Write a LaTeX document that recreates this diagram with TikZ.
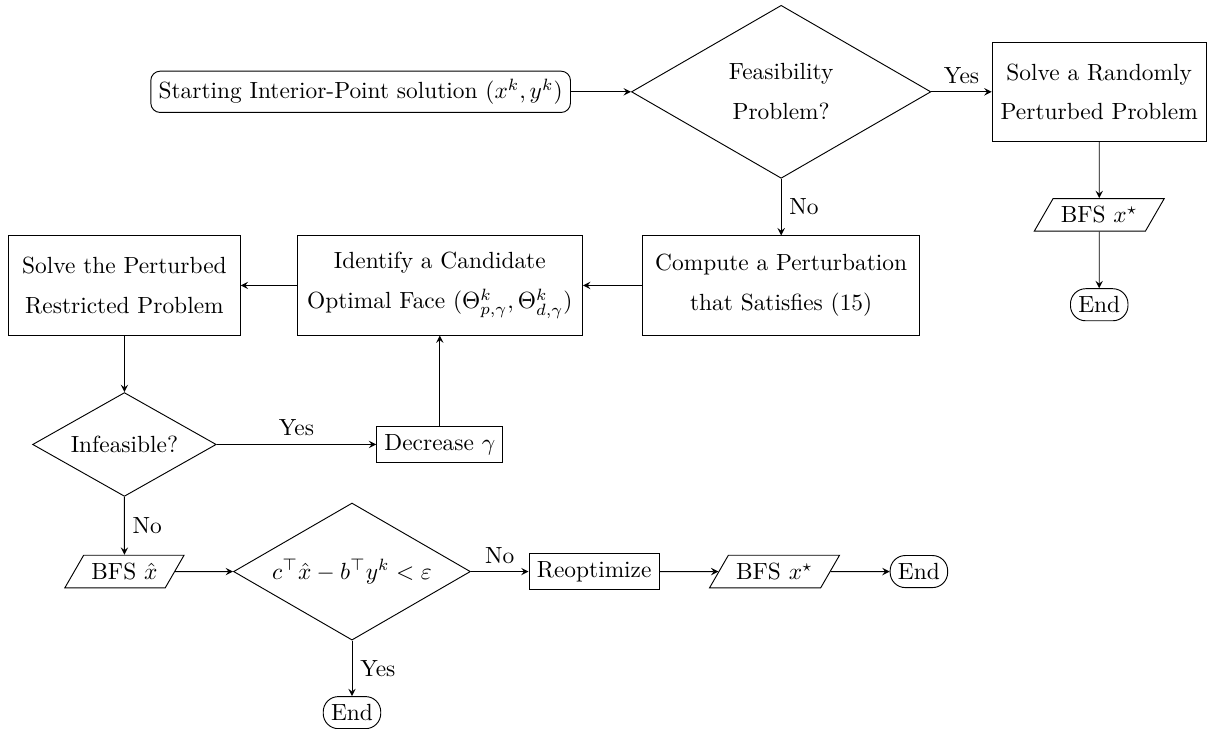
\documentclass[tikz,border=0pt]{standalone}
\usetikzlibrary{shapes.geometric,arrows}

\tikzset{
  box/.style={draw, rectangle, align=center, minimum height=1.49cm},
  smallbox/.style={draw, rectangle},
  decision/.style={draw, diamond, aspect=1.73, align=center, inner sep=1pt},
  io/.style={draw, trapezium, trapezium left angle=60, trapezium right angle=120},
  terminal/.style={draw, rounded corners=6.5pt},
  flow/.style={->, >=stealth}
}

\begin{document}
\begin{tikzpicture}
    \useasboundingbox (0,0) rectangle (18.14,-10.95);

    % top row
    \node[draw, rounded corners] (start) at (5.42,-1.38) {Starting Interior-Point solution $(x^k,y^k)$};
    \node[decision, minimum width=4.5cm, minimum height=2.6cm] (feas) at (11.74,-1.38) {Feasibility\\[5pt] Problem?};
    \node[box, minimum width=3.22cm] (rand) at (16.52,-1.38) {Solve a Randomly\\[5pt] Perturbed Problem};
    \node[io] (bfsR) at (16.52,-3.23) {BFS $x^\star$};
    \node[terminal] (endR) at (16.52,-4.58) {End};

    % second row
    \node[box, minimum width=4.17cm] (compute) at (11.74,-4.29) {Compute a Perturbation\\[5pt] that Satisfies (15)};
    \node[box, minimum width=4.29cm] (identify) at (6.61,-4.29) {Identify a Candidate\\[5pt] Optimal Face $(\Theta^k_{p,\gamma},\Theta^k_{d,\gamma})$};
    \node[box, minimum width=3.48cm] (solve) at (1.87,-4.29) {Solve the Perturbed\\[5pt] Restricted Problem};

    % third row
    \node[decision, minimum width=2.76cm, minimum height=1.56cm] (infeas) at (1.87,-6.68) {Infeasible?};
    \node[smallbox] (decrease) at (6.61,-6.68) {Decrease $\gamma$};

    % bottom row
    \node[io] (bfshat) at (1.87,-8.59) {BFS $\hat{x}$};
    \node[decision, minimum width=3.56cm, minimum height=2.06cm] (check) at (5.29,-8.59) {$c^\top\hat{x} - b^\top y^k < \varepsilon$};
    \node[smallbox] (reopt) at (8.93,-8.59) {Reoptimize};
    \node[io] (bfsstar) at (11.64,-8.59) {BFS $x^\star$};
    \node[terminal] (endB) at (13.81,-8.59) {End};
    \node[terminal] (endC) at (5.29,-10.71) {End};

    % connectors
    \foreach \a/\b in {start/feas, rand/bfsR, bfsR/endR, compute/identify, identify/solve,
                       solve/infeas, decrease/identify, bfshat/check, reopt/bfsstar, bfsstar/endB}
      \draw[flow] (\a) -- (\b);

    \draw[flow] (feas) -- (rand) node[midway, above] {Yes};
    \draw[flow] (feas) -- (compute) node[midway, right] {No};
    \draw[flow] (infeas) -- (decrease) node[midway, above] {Yes};
    \draw[flow] (infeas) -- (bfshat) node[midway, right] {No};
    \draw[flow] (check) -- (reopt) node[midway, above] {No};
    \draw[flow] (check) -- (endC) node[midway, right] {Yes};
\end{tikzpicture}
\end{document}
